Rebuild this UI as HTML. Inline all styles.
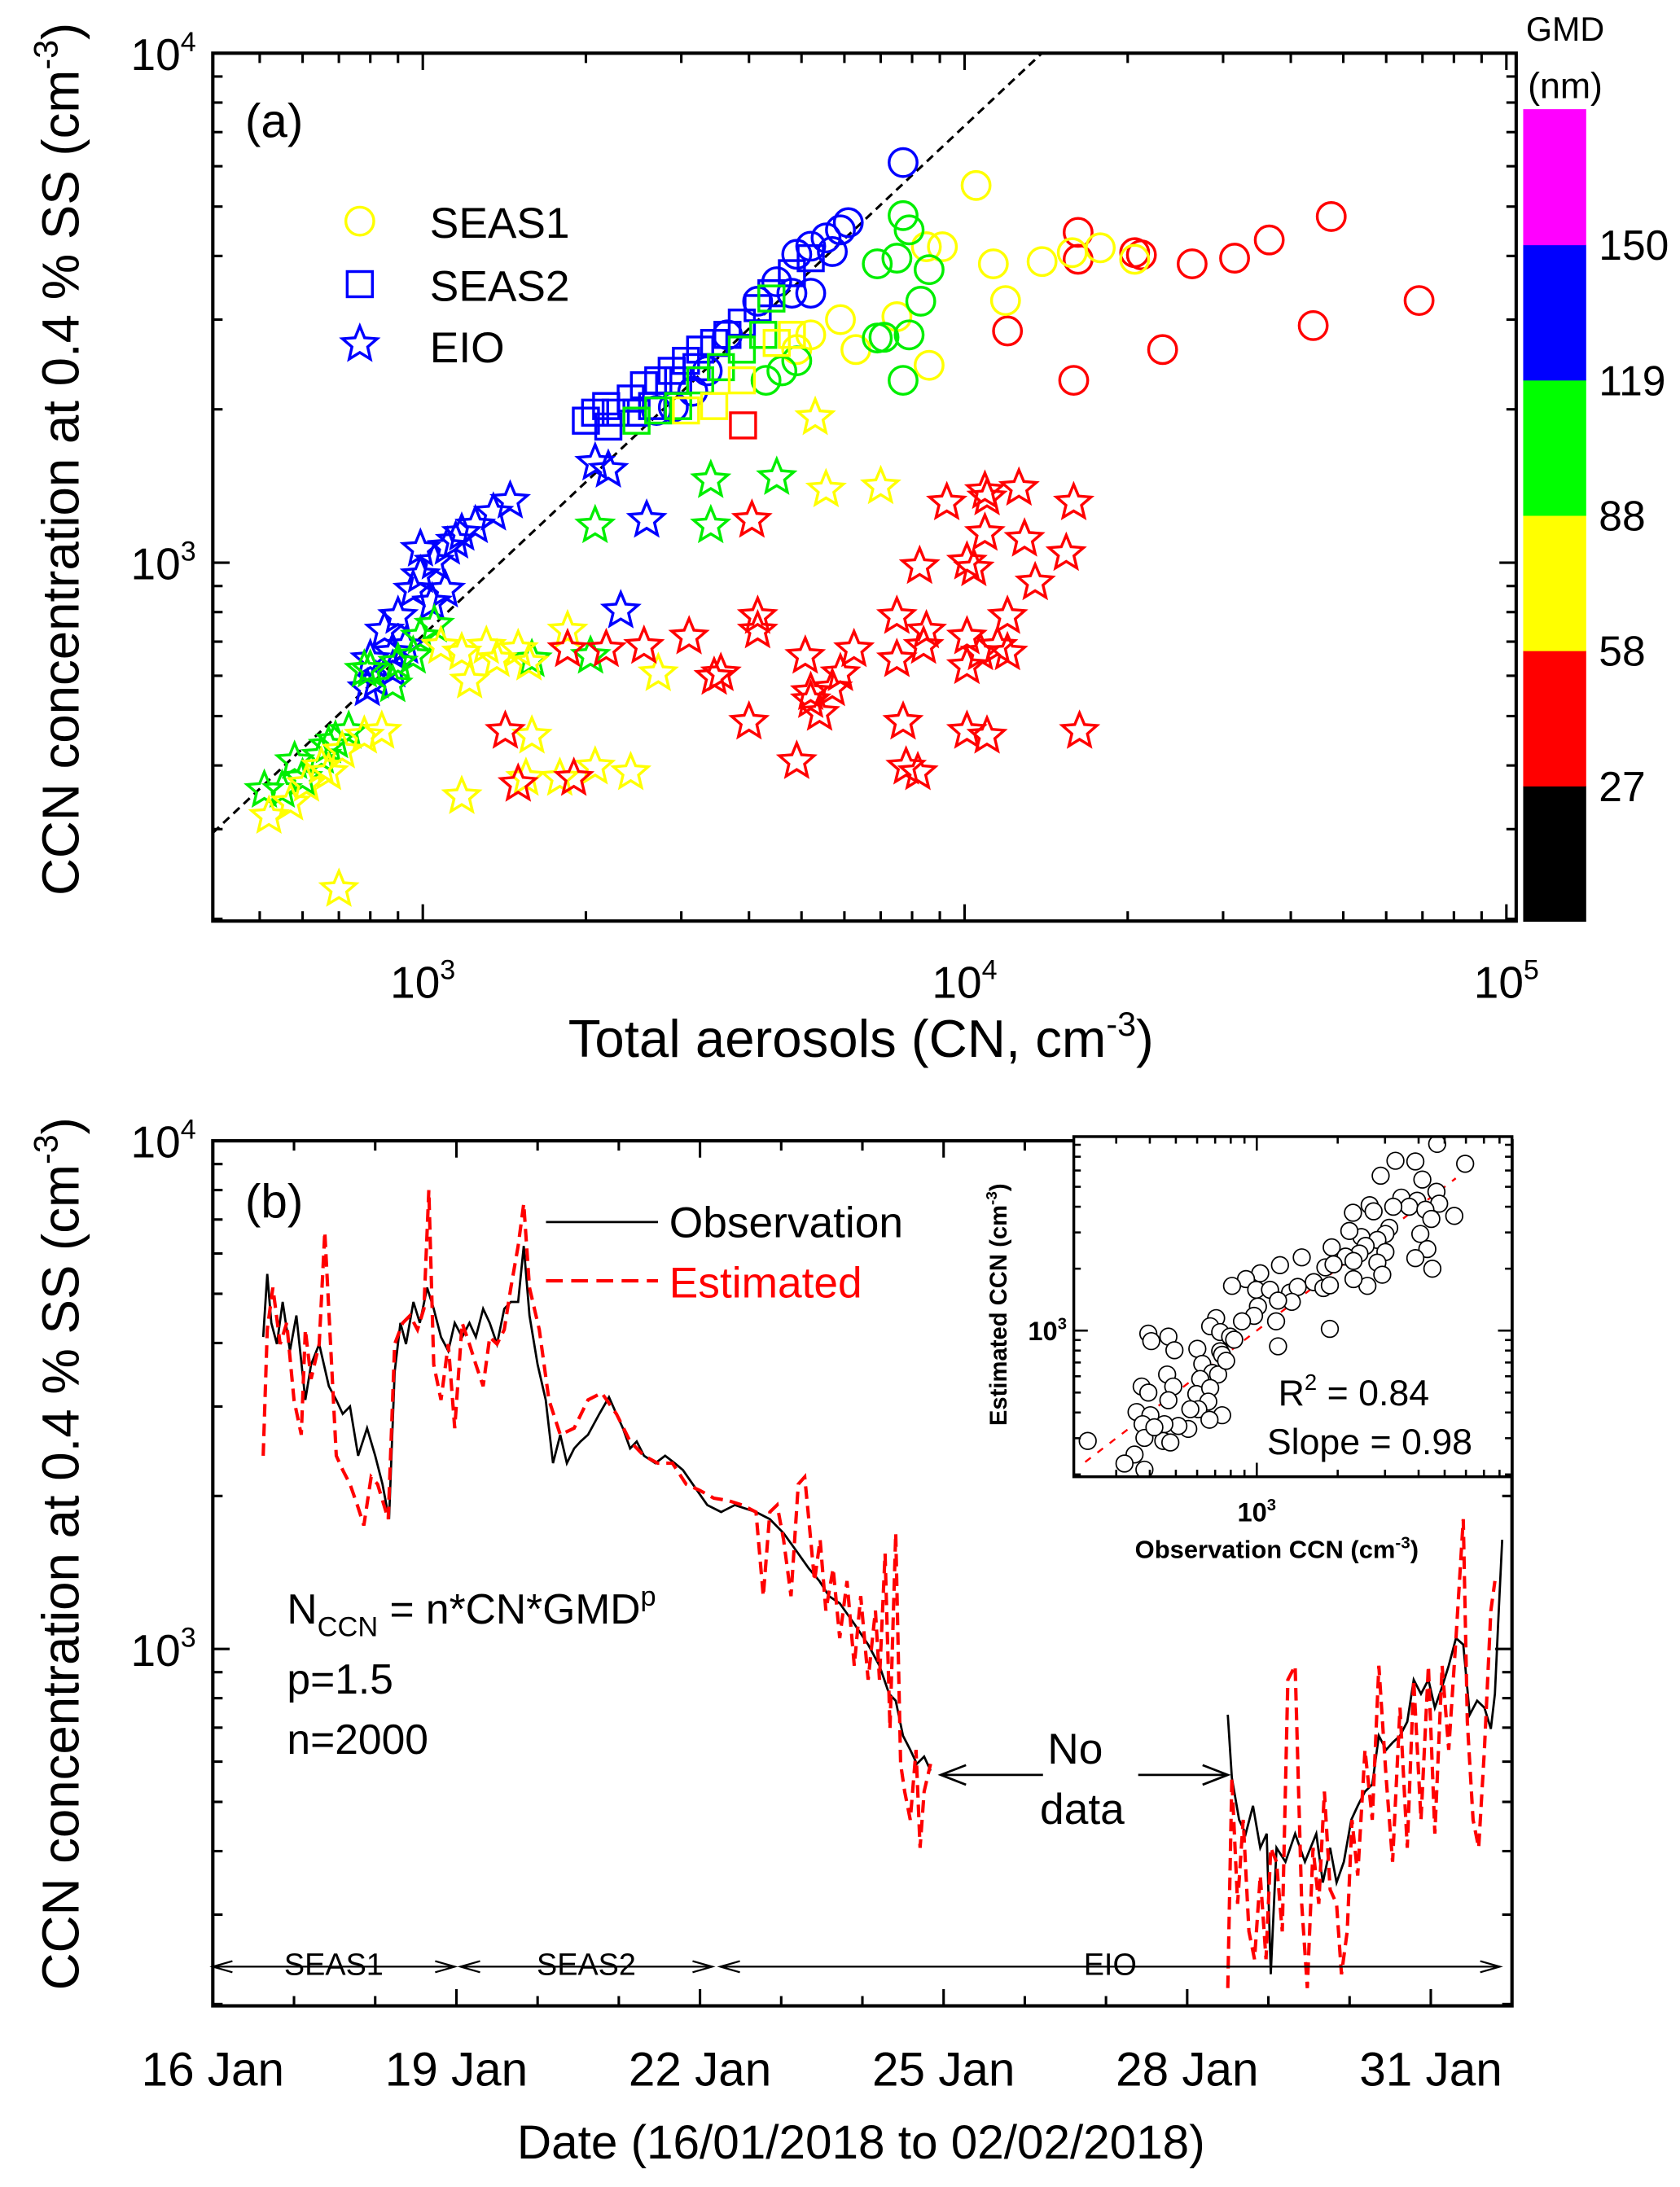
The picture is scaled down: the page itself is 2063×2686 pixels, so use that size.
<!DOCTYPE html>
<html><head><meta charset="utf-8">
<style>
html,body{margin:0;padding:0;background:#fff;}
svg{display:block;}
text{font-family:"Liberation Sans","DejaVu Sans",sans-serif;fill:#000;}
</style></head>
<body>
<svg id="fig" xmlns="http://www.w3.org/2000/svg" width="2063" height="2686" viewBox="0 0 1200 1562.4">
<rect x="0" y="0" width="1200" height="1562.4" fill="#fff"/>
<g id="pa"></g>
<g id="pb"></g>
<g id="pi"></g>
</svg>
<script>
// ---------- Panel (a) data: CN, CCN, GMD class ----------
const seas1CN  = [16200,16200,12000,15900,20600,21200,26300,31500,36500,44000,47500,69000,23200,
  10500,11300,11900,13900,15800,17800,20600,8600,7500,6300,8500,9100,5900,5200,4900,
  7700,7900,7500,6900,8300,7100,7700,6900,8600,4900,4600,4300,7900,
  7700,6100,5900,5550,5200,4900,4500,4800,5200,4150,3650,3350,3150,2900,2700,5700];
const seas1CCN = [4450,3940,2850,2280,4060,4020,3860,3960,4300,2920,4780,3270,2620,
  5500,3860,3270,3900,4060,4150,3940,2440,3040,2620,4170,4170,3000,2800,2620,
  4800,4500,3960,3860,3260,2770,2280,2760,3760,2490,2380,2280,2800,
  6100,4650,4500,4340,4180,4030,3560,3380,3380,3260,2800,2380,2170,2020,1990,4080];
const seas1GMD = ['r','r','r','r','r','r','r','r','r','r','r','r','r',
  'y','y','y','y','y','y','y','y','y','y','y','y','y','y','y',
  'g','g','g','g','g','g','g','g','g','g','g','g','g',
  'b','b','b','b','b','b','b','b','b','b','b','b','b','b','b','b'];
const seas2CN  = [2000,2080,2180,2270,2420,2560,2720,2880,3060,3250,3450,3650,3880,4150,4400,4800,5200,2200,2480,2650,2960,3200,
  2480,2720,2960,3250,3550,3880,4250,4400, 3060,3450,3880,4500,4800, 3900];
const seas2CCN = [1900,1970,2030,1970,2100,2230,2280,2380,2490,2620,2700,2800,2960,3160,3380,3700,3960,1850,1970,2030,2280,2420,
  1900,1990,2030,2280,2420,2620,2800,3300, 1990,2030,2280,2700,2800, 1860];
const seas2GMD = ['b','b','b','b','b','b','b','b','b','b','b','b','b','b','b','b','b','b','b','b','b','b',
  'g','g','g','g','g','g','g','g','y','y','y','y','y','r'];
const eioCN  = [1450,1350,1250,1180,1110,1050,990,960,900,850,800,790,820,880,930,1040,1100,2080,2200,2590,2320,990,1150,880,
  3400,4500,2080,3400,2040,1590,800,880,960,990,1050,730,690,650,600,550,510,580,780,900,670,
  5300,5550,7000,1850,1180,1310,1500,1370,1570,1220,1080,2720,1590,840,780,710,650,610,520,570,1180,1550,1790,2080,2420,700,670,
  4050,9270,11000,12600,15900,10900,12900,15400,8260,10100,10400,13500,12000,7500,8500,10100,10700,11500,4150,4150,3100,2560,2180,1850,
  5080,6250,7500,8400,5900,5700,5200,3550,3450,5200,5400,4000,1420,10100,7700,10100,11000,16300,4900,7800,8200,1500,1900,12000,10900];
const eioCCN = [1330,1260,1190,1150,1080,1010,950,890,790,740,650,570,590,620,690,840,890,1580,1530,1220,810,1070,1110,670,
  1460,1480,1190,1190,660,650,620,580,660,720,760,470,450,420,380,360,360,410,620,640,440,
  1940,1400,1420,740,670,690,680,650,640,590,690,610,460,470,460,430,400,370,320,340,350,380,380,400,390,230,390,
  1220,1320,1350,1410,1320,1390,1120,1050,990,1010,980,920,790,790,740,720,670,690,790,740,720,690,680,680,
  660,680,650,690,610,570,560,610,600,540,510,490,470,630,490,470,460,470,410,400,390,370,380,670,1150];
const eioGMD = ['b','b','b','b','b','b','b','b','b','b','b','b','b','b','b','b','b','b','b','b','b','b','b','b',
  'g','g','g','g','g','g','g','g','g','g','g','g','g','g','g','g','g','g','g','g','g',
  'y','y','y','y','y','y','y','y','y','y','y','y','y','y','y','y','y','y','y','y','y','y','y','y','y','y','y',
  'r','r','r','r','r','r','r','r','r','r','r','r','r','r','r','r','r','r','r','r','r','r','r','r',
  'r','r','r','r','r','r','r','r','r','r','r','r','r','r','r','r','r','r','r','r','r','r','r','r','r'];
const fitRatio = 0.72;
const gmdEdges = [27,58,88,119,150];

// ---------- Panel (b) data: day offset from 16 Jan, CCN ----------
const obsDay = [0.62,0.67,0.72,0.79,0.86,0.95,1.03,1.14,1.21,1.31,1.43,1.52,1.60,1.69,1.79,1.90,2.00,2.09,2.17,2.24,2.31,2.38,2.47,2.55,2.64,2.72,2.81,2.90,2.98,3.07,3.16,3.24,3.33,3.41,3.50,3.59,3.67,3.76,3.83,3.90,4.00,4.10,4.19,4.28,4.36,4.45,4.53,4.62,4.76,4.88,4.97,5.05,5.14,5.22,5.31,5.45,5.57,5.69,5.79,5.91,6.09,6.26,6.43,6.69,6.86,7.03,7.21,7.34,7.47,7.59,7.72,7.90,8.07,8.21,8.33,8.41,8.50,8.59,8.67,8.76,8.84,
  10.6,
  12.50,12.55,12.64,12.72,12.81,12.90,12.98,13.03,13.10,13.21,13.33,13.45,13.59,13.67,13.76,13.84,13.93,14.02,14.10,14.19,14.28,14.36,14.45,14.53,14.62,14.71,14.79,14.88,14.97,15.05,15.14,15.22,15.31,15.40,15.48,15.57,15.66,15.74,15.79,15.83,15.88];
const obsCCN = [4110,5470,4380,3980,4820,3860,4530,3090,3630,3980,3290,3090,2900,3000,2400,2720,2400,2110,1800,3510,4380,3980,4820,4380,5140,4670,4110,3860,4380,4110,4380,4110,4670,4380,3980,4670,4820,4820,6210,4530,3630,3090,2320,2640,2320,2480,2560,2640,2900,3130,2900,2720,2480,2560,2400,2320,2400,2320,2250,2110,1920,1860,1920,1860,1800,1690,1540,1440,1360,1270,1230,1120,1020,927,816,791,675,633,594,614,576,
  null,
  742,558,461,433,491,406,433,229,406,381,433,381,433,347,406,347,381,461,491,524,541,675,633,654,675,719,870,816,870,766,843,927,1050,1020,742,791,766,696,816,1120,1640];
const estDay = [0.62,0.67,0.74,0.83,0.91,1.00,1.09,1.14,1.21,1.31,1.38,1.45,1.52,1.60,1.69,1.78,1.86,1.95,2.03,2.16,2.24,2.34,2.43,2.52,2.60,2.66,2.72,2.81,2.90,2.98,3.07,3.16,3.24,3.33,3.41,3.50,3.59,3.67,3.76,3.83,3.90,4.02,4.14,4.28,4.45,4.62,4.79,4.97,5.14,5.31,5.48,5.66,5.83,6.00,6.17,6.34,6.52,6.69,6.78,6.86,6.95,7.03,7.12,7.21,7.29,7.34,7.41,7.48,7.55,7.64,7.72,7.81,7.90,7.98,8.07,8.16,8.21,8.28,8.34,8.41,8.47,8.52,8.59,8.66,8.71,8.76,8.84,
  10.6,
  12.50,12.55,12.62,12.69,12.76,12.83,12.90,12.97,13.03,13.10,13.17,13.24,13.33,13.41,13.48,13.55,13.62,13.69,13.76,13.84,13.90,13.97,14.03,14.10,14.19,14.28,14.36,14.45,14.53,14.62,14.71,14.79,14.88,14.97,15.05,15.14,15.22,15.31,15.40,15.45,15.52,15.59,15.66,15.74,15.79];
const estCCN = [2400,4250,5140,3980,4380,3090,2640,4250,3400,3980,6620,3980,2400,2250,2110,1920,1750,2180,2110,1800,3980,4380,4530,4250,4670,8000,3630,3090,3980,2720,4380,3980,3630,3290,4110,3980,4250,5140,6210,7520,5140,4250,3090,2640,2720,3090,3190,2900,2560,2400,2320,2320,2110,2050,1980,1960,1920,1860,1270,1860,1920,1640,1270,2110,2180,1800,1360,1640,1190,1440,1050,1360,927,1270,870,1190,870,1540,696,1690,594,524,461,633,406,524,594,
  null,
  215,558,315,461,278,245,358,245,406,381,278,870,927,315,215,406,315,524,336,315,229,278,461,358,633,461,927,558,381,766,406,870,461,927,433,927,633,1050,1800,719,461,406,633,1190,1360];
const dayLabels = ['16 Jan','19 Jan','22 Jan','25 Jan','28 Jan','31 Jan'];
const dayTicks = [0,3,6,9,12,15];
const periodNames = ['SEAS1','SEAS2','EIO'];
const periodStart = [0,3.05,6.25];
const periodEnd = [2.98,6.15,15.85];

// ---------- Inset data: observed vs estimated CCN ----------
const insetObs = [4690,3280,3890,2890,5960,4130,4660,3450,3950,4770,5430,3690,4240,4460,4060,4310,3890,4500,2280,2630,2720,3220,3110,3010,2450,2210,2810,2540,3010,2410,1900,2140,2290,2810,2930,2580,2290,1800,1930,1470,1220,1030,912,809,995,1120,1330,1420,1630,1770,1870,1350,1200,1010,977,881,706,671,731,796,1180,1870,1200,601,731,627,683,718,616,596,671,660,606,743,667,556,511,395,405,469,494,464,489,373,395,469,357,402,376,453,382,449,477,351,322,382,235,416,566,743,769,824];
const insetEst = [8080,6690,6640,5660,6470,5420,4730,4430,4280,4140,3610,4000,3870,3490,2950,2490,2250,2000,3740,4070,3800,4000,3160,2950,2850,3050,2760,2580,2410,2370,2540,2290,2180,2140,1870,1650,1780,2030,2100,2270,2080,1900,1780,1650,1580,1580,1530,1630,1720,1610,1660,1380,1400,1310,1180,1110,1150,1050,984,935,1110,1020,839,816,794,689,623,612,582,492,526,452,415,388,369,333,344,967,889,935,803,612,535,535,500,459,402,388,351,351,301,291,286,250,226,211,291,339,415,763,713,904];
const insetFitLo = 230, insetFitHi = 5500;

const NS = 'http://www.w3.org/2000/svg';
function mk(tag, attrs, parent){
  const e = document.createElementNS(NS, tag);
  for (const k in attrs) e.setAttribute(k, attrs[k]);
  parent.appendChild(e);
  return e;
}
function txt(parent, x, y, s, size, anchor, extra){
  const t = mk('text', Object.assign({x:x, y:y, 'font-size':size, 'text-anchor':anchor||'start'}, extra||{}), parent);
  t.textContent = s;
  return t;
}
function pow10(parent, x, y, exp, size, anchor){
  const t = mk('text', {x:x, y:y, 'font-size':size, 'text-anchor':anchor||'middle'}, parent);
  const a = mk('tspan', {}, t); a.textContent = '10';
  const b = mk('tspan', {dy:-size*0.42, 'font-size':size*0.62}, t); b.textContent = exp;
  return t;
}
const L = Math.log10;
const COL = {r:'#ff0000', y:'#ffff00', g:'#00ee00', b:'#0000ff'};

// =========== PANEL A ===========
const pa = document.getElementById('pa');
const A = {l:152, r:1083, t:38, b:658};
const xa = v => 302 + 387*(L(v)-3);
const ya = v => 402 - 364*(L(v)-3);

function logTicks(lo, hi){ const out=[]; for(let d=Math.floor(L(lo)); d<=Math.ceil(L(hi)); d++){ for(let m=1;m<10;m++){ const v=m*Math.pow(10,d); if(v>=lo*0.999 && v<=hi*1.001) out.push([v, m===1]); } } return out; }

const defs = mk('defs', {}, document.getElementById('fig'));
const cpA = mk('clipPath', {id:'clipA'}, defs);
mk('rect', {x:A.l, y:A.t, width:A.r-A.l, height:A.b-A.t}, cpA);
const cpB = mk('clipPath', {id:'clipB'}, defs);
mk('rect', {x:152, y:815, width:928, height:618}, cpB);
const cpI = mk('clipPath', {id:'clipI'}, defs);
mk('rect', {x:767, y:812, width:313, height:243}, cpI);

const fit = mk('line', {x1:xa(410), y1:ya(410*fitRatio), x2:xa(15000), y2:ya(15000*fitRatio), stroke:'#000', 'stroke-width':1.8, 'stroke-dasharray':'6,4', 'clip-path':'url(#clipA)'}, pa);



const marksA = mk('g', {'clip-path':'url(#clipA)', fill:'none', 'stroke-width':2}, pa);



function starPath(cx, cy, R){
  let d=''; const r=R*0.45;
  for(let i=0;i<10;i++){ const rr = i%2?r:R; const a = -Math.PI/2 + i*Math.PI/5; d += (i?'L':'M') + (cx+rr*Math.cos(a)).toFixed(1)+','+(cy+rr*Math.sin(a)).toFixed(1); }
  return d+'Z';
}
function drawCircle(g, x, y, c){ return mk('circle', {cx:x, cy:y, r:10, stroke:c, fill:'none'}, g); }
function drawSquare(g, x, y, c){ return mk('rect', {x:x-9, y:y-9, width:18, height:18, stroke:c, fill:'none'}, g); }
function drawStar(g, x, y, c){ return mk('path', {d:starPath(x, y+1, 13), stroke:c, fill:'none'}, g); }

seas1CN.forEach((v,i)=>{
  const el = drawCircle(marksA, xa(v), ya(seas1CCN[i]), COL[seas1GMD[i]]);
  
  
});
seas2CN.forEach((v,i)=>{
  const el = drawSquare(marksA, xa(v), ya(seas2CCN[i]), COL[seas2GMD[i]]);
  
  
});
eioCN.forEach((v,i)=>{
  const el = drawStar(marksA, xa(v), ya(eioCCN[i]), COL[eioGMD[i]]);
  
  
});

const boxA = mk('rect', {x:A.l, y:A.t, width:A.r-A.l, height:A.b-A.t, fill:'none', stroke:'#000', 'stroke-width':2.4}, pa);


const tkA = mk('g', {stroke:'#000', 'stroke-width':1.8}, pa);
logTicks(410, 100000).forEach(([v,maj])=>{
  const x = xa(v), len = maj?12:7;
  mk('line', {x1:x, y1:A.b, x2:x, y2:A.b-len}, tkA);
  mk('line', {x1:x, y1:A.t, x2:x, y2:A.t+len}, tkA);
});
logTicks(200, 10000).forEach(([v,maj])=>{
  const y = ya(v), len = maj?12:7;
  if (y>A.b-1) return;
  mk('line', {x1:A.l, y1:y, x2:A.l+len, y2:y}, tkA);
  mk('line', {x1:A.r, y1:y, x2:A.r-len, y2:y}, tkA);
});
[[1000,'3'],[10000,'4'],[100000,'5']].forEach(([v,e])=>{
  const t = pow10(pa, xa(v), 713, e, 32, 'middle');
  
  
});
[[1000,'3'],[10000,'4']].forEach(([v,e])=>{
  const t = pow10(pa, 140, ya(v)+12, e, 32, 'end');
  
  
});
const xtA = mk('text', {x:615, y:755, 'font-size':38, 'text-anchor':'middle'}, pa);


mk('tspan', {}, xtA).textContent = 'Total aerosols (CN, cm';
mk('tspan', {dy:-15, 'font-size':24}, xtA).textContent = '-3';
mk('tspan', {dy:15}, xtA).textContent = ')';
function yTitle(parent, cy){
  const t = mk('text', {x:0, y:0, 'font-size':37, 'text-anchor':'middle', transform:'translate(56,'+cy+') rotate(-90)'}, parent);
  mk('tspan', {}, t).textContent = 'CCN concentration at 0.4 % SS (cm';
  mk('tspan', {dy:-15, 'font-size':24}, t).textContent = '-3';
  mk('tspan', {dy:15}, t).textContent = ')';
  return t;
}
const ytA = yTitle(pa, 328);


const la = txt(pa, 175, 98, '(a)', 34);



const legA = mk('g', {'stroke-width':2, fill:'none'}, pa);


drawCircle(legA, 257, 158, COL.y);
drawSquare(legA, 257, 203, COL.b);
drawStar(legA, 257, 245, COL.b);
[['SEAS1',158],['SEAS2',203],['EIO',247]].forEach(([s,y])=>{
  const t = txt(pa, 307, y+12, s, 31);
  
  
});

const cb = mk('g', {}, pa);


const cbCols = ['#000000','#ff0000','#ffff00','#00ff00','#0000ff','#ff00ff'];
const cbTop = 78, cbBot = 658, seg = (cbBot-cbTop)/6;
cbCols.forEach((c,i)=>{ mk('rect', {x:1088, y:cbBot-(i+1)*seg, width:45, height:seg+0.5, fill:c}, cb); });
gmdEdges.forEach((v,i)=>{
  const t = txt(cb, 1142, cbBot-(i+1)*seg+11, String(v), 30);
  
  
});
txt(cb, 1118, 29, 'GMD', 24, 'middle');
txt(cb, 1118, 70, '(nm)', 26, 'middle');

// =========== PANEL B ===========
const pb = document.getElementById('pb');
const B = {l:152, r:1080, t:815, b:1433};
const xb = d => 152 + 58*d;
const yb = v => 1178 - 363*(L(v)-3);
function seriesPath(days, vals){
  let d='', pen=false;
  days.forEach((t,i)=>{ const v=vals[i]; if(v==null){pen=false;return;} d += (pen?'L':'M') + xb(t).toFixed(1)+','+yb(v).toFixed(1); pen=true; });
  return d;
}
const gB = mk('g', {'clip-path':'url(#clipB)', fill:'none'}, pb);
const obsLine = mk('path', {d:seriesPath(obsDay, obsCCN), stroke:'#000', 'stroke-width':1.6}, gB);


const estLine = mk('path', {d:seriesPath(estDay, estCCN), stroke:'#ff0000', 'stroke-width':2.4, 'stroke-dasharray':'9,5'}, gB);



const boxB = mk('rect', {x:B.l, y:B.t, width:B.r-B.l, height:B.b-B.t, fill:'none', stroke:'#000', 'stroke-width':2.4}, pb);


const tkB = mk('g', {stroke:'#000', 'stroke-width':1.8}, pb);
for(let d=0; d<=15.9; d++){
  const x = xb(d), len = (d%3===0)?12:7;
  mk('line', {x1:x, y1:B.b, x2:x, y2:B.b-len}, tkB);
  mk('line', {x1:x, y1:B.t, x2:x, y2:B.t+len}, tkB);
}
logTicks(200, 10000).forEach(([v,maj])=>{
  const y = yb(v), len = maj?12:7;
  if (y>B.b-1) return;
  mk('line', {x1:B.l, y1:y, x2:B.l+len, y2:y}, tkB);
  mk('line', {x1:B.r, y1:y, x2:B.r-len, y2:y}, tkB);
});
dayTicks.forEach((d,i)=>{
  const t = txt(pb, xb(d), 1490, dayLabels[i], 34, 'middle');
  
  
});
[[1000,'3'],[10000,'4']].forEach(([v,e])=>{
  const t = pow10(pb, 140, yb(v)+12, e, 32, 'end');
  
  
});
const xtB = txt(pb, 615, 1542, 'Date (16/01/2018 to 02/02/2018)', 34, 'middle');


const ytB = yTitle(pb, 1110);


const lb = txt(pb, 175, 870, '(b)', 34);



const legB = mk('g', {}, pb);


mk('line', {x1:390, y1:873, x2:470, y2:873, stroke:'#000', 'stroke-width':1.6}, legB);
mk('line', {x1:390, y1:915, x2:470, y2:915, stroke:'#ff0000', 'stroke-width':2.4, 'stroke-dasharray':'12,6'}, legB);
txt(legB, 478, 884, 'Observation', 31);
txt(legB, 478, 927, 'Estimated', 31, 'start', {style:'fill:#ff0000'});

const eq = mk('text', {x:205, y:1160, 'font-size':30}, pb);


mk('tspan', {}, eq).textContent = 'N';
mk('tspan', {dy:9, 'font-size':20}, eq).textContent = 'CCN';
mk('tspan', {dy:-9}, eq).textContent = ' = n*CN*GMD';
mk('tspan', {dy:-13, 'font-size':20}, eq).textContent = 'p';
txt(pb, 205, 1210, 'p=1.5', 30);
txt(pb, 205, 1253, 'n=2000', 30);

const nd = mk('g', {}, pb);


txt(nd, 768, 1260, 'No', 31, 'middle');
txt(nd, 773, 1303, 'data', 31, 'middle');
mk('line', {x1:745, y1:1268, x2:673, y2:1268, stroke:'#000', 'stroke-width':1.6}, nd);
mk('path', {d:'M690,1261 L672,1268 L690,1275', stroke:'#000', fill:'none', 'stroke-width':1.6}, nd);
mk('line', {x1:813, y1:1268, x2:876, y2:1268, stroke:'#000', 'stroke-width':1.6}, nd);
mk('path', {d:'M859,1261 L877,1268 L859,1275', stroke:'#000', fill:'none', 'stroke-width':1.6}, nd);

periodNames.forEach((nm,i)=>{
  const g = mk('g', {}, pb);
  
  
  const x1 = xb(periodStart[i]), x2 = xb(periodEnd[i]), y = 1405;
  mk('line', {x1:x1, y1:y, x2:x2, y2:y, stroke:'#000', 'stroke-width':1.3}, g);
  mk('path', {d:'M'+(x1+14)+','+(y-4)+' L'+x1+','+y+' L'+(x1+14)+','+(y+4), stroke:'#000', fill:'none', 'stroke-width':1.3}, g);
  mk('path', {d:'M'+(x2-14)+','+(y-4)+' L'+x2+','+y+' L'+(x2-14)+','+(y+4), stroke:'#000', fill:'none', 'stroke-width':1.3}, g);
  const cx = (i===2) ? 793 : (x1+x2)/2;
  mk('rect', {x:cx-30, y:y-16, width:60, height:15, fill:'#fff'}, g);
  txt(g, cx, y+6, nm, 22, 'middle');
});

// =========== INSET ===========
const pi = document.getElementById('pi');
const I = {l:767, r:1080, t:812, b:1055};
const xi = v => 897.7 + 192*(L(v)-3);
const yi = v => 950.6 - 147*(L(v)-3);
mk('rect', {x:I.l, y:I.t, width:I.r-I.l, height:I.b-I.t, fill:'#fff'}, pi);
const gI = mk('g', {'clip-path':'url(#clipI)'}, pi);
const insFit = mk('line', {x1:xi(insetFitLo), y1:yi(insetFitLo), x2:xi(insetFitHi), y2:yi(insetFitHi), stroke:'#ff0000', 'stroke-width':1.4, 'stroke-dasharray':'5,6'}, gI);


insetObs.forEach((v,i)=>{
  const c = mk('circle', {cx:xi(v), cy:yi(insetEst[i]), r:6, fill:'#fff', stroke:'#000', 'stroke-width':1}, gI);
  
  
});
const boxI = mk('rect', {x:I.l, y:I.t, width:I.r-I.l, height:I.b-I.t, fill:'none', stroke:'#000', 'stroke-width':2}, pi);


const tkI = mk('g', {stroke:'#000', 'stroke-width':1.5}, pi);
logTicks(210, 8900).forEach(([v,maj])=>{
  const x = xi(v), len = maj?10:5;
  if (x<I.l+1||x>I.r-1) return;
  mk('line', {x1:x, y1:I.b, x2:x, y2:I.b-len}, tkI);
  mk('line', {x1:x, y1:I.t, x2:x, y2:I.t+len}, tkI);
});
logTicks(200, 8800).forEach(([v,maj])=>{
  const y = yi(v), len = maj?10:5;
  if (y>I.b-1||y<I.t+1) return;
  mk('line', {x1:I.l, y1:y, x2:I.l+len, y2:y}, tkI);
  mk('line', {x1:I.r, y1:y, x2:I.r-len, y2:y}, tkI);
});
const ixl = pow10(pi, xi(1000), 1087, '3', 19, 'middle');
ixl.setAttribute('font-weight','bold');


const yl = pow10(pi, 762, yi(1000)+7, '3', 19, 'end');
yl.setAttribute('font-weight','bold');


const ixt = mk('text', {x:912, y:1113, 'font-size':18, 'font-weight':'bold', 'text-anchor':'middle'}, pi);


mk('tspan', {}, ixt).textContent = 'Observation CCN (cm';
mk('tspan', {dy:-7, 'font-size':12}, ixt).textContent = '-3';
mk('tspan', {dy:7}, ixt).textContent = ')';
const iyt = mk('text', {x:0, y:0, 'font-size':17, 'font-weight':'bold', 'text-anchor':'middle', transform:'translate(719,932) rotate(-90)'}, pi);


mk('tspan', {}, iyt).textContent = 'Estimated CCN (cm';
mk('tspan', {dy:-7, 'font-size':11}, iyt).textContent = '-3';
mk('tspan', {dy:7}, iyt).textContent = ')';
const r2 = mk('text', {x:913, y:1004, 'font-size':26}, pi);


mk('tspan', {}, r2).textContent = 'R';
mk('tspan', {dy:-11, 'font-size':16}, r2).textContent = '2';
mk('tspan', {dy:11}, r2).textContent = ' = 0.84';
const sl = txt(pi, 905, 1039, 'Slope = 0.98', 26);


</script>
</body></html>
